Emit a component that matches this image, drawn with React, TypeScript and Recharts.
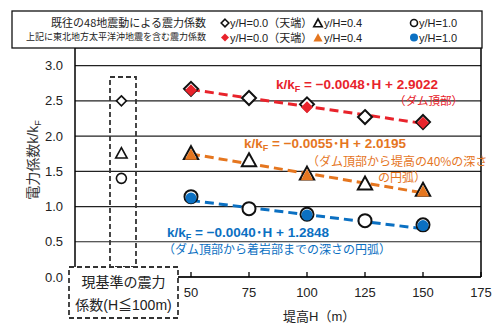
import React from 'react';
import {
  ComposedChart,
  Scatter,
  Line,
  XAxis,
  YAxis,
  CartesianGrid,
  ReferenceLine,
} from 'recharts';

// 堤高 H (m)
const heights = [50, 75, 100, 125, 150];
const heightsFull = [50, 100, 150];
const fitHeights = [50, 150];
const stdHeight = 20;

// 既往の48地震動による震力係数 (open markers)
const openTop = [2.67, 2.54, 2.45, 2.27, 2.2];
const openMid = [1.75, 1.65, 1.46, 1.32, 1.23];
const openBase = [1.14, 0.97, 0.89, 0.8, 0.74];

// 東北地方太平洋沖地震を含む震力係数 (filled markers)
const fullTop = [2.65, 2.41, 2.19];
const fullMid = [1.73, 1.44, 1.21];
const fullBase = [1.12, 0.88, 0.73];

// 回帰直線 (両端)
const fitTop = [2.66, 2.18];
const fitMid = [1.745, 1.195];
const fitBase = [1.085, 0.685];

// 現基準の震力係数 (天端, 0.4, 1.0)
const stdValues = [2.5, 1.75, 1.4];

const xTicks = [50, 75, 100, 125, 150, 175];
const yTicks = [0, 0.5, 1, 1.5, 2, 2.5, 3];

const RED = '#e8232b';
const ORANGE = '#e5761f';
const BLUE = '#0b70c2';
const FONT = "'Liberation Sans', 'Noto Sans CJK JP', sans-serif";
const JP = "'Noto Sans CJK JP', sans-serif";

const toPts = (xs: number[], ys: number[]) => xs.map((h, i) => ({ h, v: ys[i] }));

type ShapeProps = { cx?: number; cy?: number; r?: number; fill?: string; stroke?: string; sw?: number };

const Diamond = ({ cx = 0, cy = 0, r = 7, fill = '#fff', stroke = 'none', sw = 2 }: ShapeProps) => (
  <path
    d={`M${cx},${cy - r}L${cx + r},${cy}L${cx},${cy + r}L${cx - r},${cy}Z`}
    fill={fill}
    stroke={stroke}
    strokeWidth={sw}
  />
);

const Triangle = ({ cx = 0, cy = 0, r = 7, fill = '#fff', stroke = 'none', sw = 2 }: ShapeProps) => (
  <path
    d={`M${cx},${cy - r}L${cx + r * 0.95},${cy + r * 0.72}L${cx - r * 0.95},${cy + r * 0.72}Z`}
    fill={fill}
    stroke={stroke}
    strokeWidth={sw}
    strokeLinejoin="miter"
  />
);

const Circle = ({ cx = 0, cy = 0, r = 6.5, fill = '#fff', stroke = 'none', sw = 2 }: ShapeProps) => (
  <circle cx={cx} cy={cy} r={r} fill={fill} stroke={stroke} strokeWidth={sw} />
);

const XTick = ({ x, y, payload }: any) => (
  <g>
    <line x1={x} x2={x} y1={y - 5} y2={y} stroke="#000" strokeWidth={1.3} />
    <text x={x} y={y + 20} textAnchor="middle" fontSize={13} fill="#222" fontFamily={FONT}>
      {payload.value}
    </text>
  </g>
);

const Eq = ({ x, y, color, text }: { x: number; y: number; color: string; text: string }) => (
  <text x={x} y={y} fill={color} fontSize={13.5} fontWeight="bold" fontFamily={FONT}>
    <tspan>k/k</tspan>
    <tspan fontSize={9} dy={3}>F</tspan>
    <tspan dy={-3}>{text}</tspan>
  </text>
);

export default function App() {
  return (
    <div style={{ position: 'absolute', left: 0, top: 0, width: 493, height: 323, background: '#fff', fontFamily: FONT }}>
      <ComposedChart width={493} height={323} margin={{ top: 48, right: 12, left: 0, bottom: 0 }}>
        <CartesianGrid vertical={false} stroke="#222" strokeWidth={1.2} />
        <XAxis
          dataKey="h"
          type="number"
          domain={[0, 175]}
          ticks={xTicks}
          height={46}
          axisLine={{ stroke: '#000', strokeWidth: 1.5 }}
          tickLine={false}
          tickSize={0}
          tickMargin={0}
          tick={<XTick />}
          allowDataOverflow
        />
        <YAxis
          type="number"
          domain={[0, 3.25]}
          ticks={yTicks}
          width={75}
          axisLine={{ stroke: '#000', strokeWidth: 1.5 }}
          tickLine={false}
          tickSize={0}
          tickMargin={12}
          tick={{ fontSize: 13, fill: '#222', fontFamily: FONT }}
          tickFormatter={(v: number) => v.toFixed(1)}
          allowDataOverflow
        />
        <ReferenceLine x={175} stroke="#000" strokeWidth={1.5} />

        <Line data={toPts(fitHeights, fitTop)} dataKey="v" stroke={RED} strokeWidth={3} strokeDasharray="9 5" dot={false} isAnimationActive={false} />
        <Line data={toPts(fitHeights, fitMid)} dataKey="v" stroke={ORANGE} strokeWidth={3} strokeDasharray="9 5" dot={false} isAnimationActive={false} />
        <Line data={toPts(fitHeights, fitBase)} dataKey="v" stroke={BLUE} strokeWidth={3} strokeDasharray="9 5" dot={false} isAnimationActive={false} />

        <Scatter data={toPts(heights, openTop)} dataKey="v" isAnimationActive={false}
          shape={(p: any) => <Diamond cx={p.cx} cy={p.cy} r={7} fill="#fff" stroke="#111" sw={2} />} />
        <Scatter data={toPts(heights, openMid)} dataKey="v" isAnimationActive={false}
          shape={(p: any) => <Triangle cx={p.cx} cy={p.cy} r={7.5} fill="#fff" stroke="#111" sw={2} />} />
        <Scatter data={toPts(heights, openBase)} dataKey="v" isAnimationActive={false}
          shape={(p: any) => <Circle cx={p.cx} cy={p.cy} r={6.5} fill="#fff" stroke="#111" sw={2} />} />

        <Scatter data={toPts(heightsFull, fullTop)} dataKey="v" isAnimationActive={false}
          shape={(p: any) => <Diamond cx={p.cx} cy={p.cy} r={6} fill={RED} />} />
        <Scatter data={toPts(heightsFull, fullMid)} dataKey="v" isAnimationActive={false}
          shape={(p: any) => <Triangle cx={p.cx} cy={p.cy} r={6.5} fill={ORANGE} />} />
        <Scatter data={toPts(heightsFull, fullBase)} dataKey="v" isAnimationActive={false}
          shape={(p: any) => <Circle cx={p.cx} cy={p.cy} r={5.5} fill={BLUE} />} />

        <Scatter data={[{ h: stdHeight, v: stdValues[0] }]} dataKey="v" isAnimationActive={false}
          shape={(p: any) => <Diamond cx={p.cx} cy={p.cy} r={5} fill="#fff" stroke="#111" sw={1.6} />} />
        <Scatter data={[{ h: stdHeight, v: stdValues[1] }]} dataKey="v" isAnimationActive={false}
          shape={(p: any) => <Triangle cx={p.cx} cy={p.cy} r={6} fill="#fff" stroke="#111" sw={1.6} />} />
        <Scatter data={[{ h: stdHeight, v: stdValues[2] }]} dataKey="v" isAnimationActive={false}
          shape={(p: any) => <Circle cx={p.cx} cy={p.cy} r={5} fill="#fff" stroke="#111" sw={1.6} />} />
      </ComposedChart>

      <svg width={493} height={323} style={{ position: 'absolute', left: 0, top: 0, pointerEvents: 'none' }}>
        {/* legend */}
        <rect x={12} y={11} width={470} height={37} fill="#fff" stroke="#111" strokeWidth={1.3} />
        <text x={206} y={27} textAnchor="end" fontSize={11} fill="#222" fontFamily={JP}>既往の48地震動による震力係数</text>
        <text x={206} y={40} textAnchor="end" fontSize={9} fill="#222" fontFamily={JP}>上記に東北地方太平洋沖地震を含む震力係数</text>

        <Diamond cx={225} cy={23} r={3.8} fill="#fff" stroke="#111" sw={1.6} />
        <text x={230} y={27} fontSize={11} fill="#222" fontFamily={FONT}>y/H=0.0（天端）</text>
        <Triangle cx={318} cy={23.5} r={4.5} fill="#fff" stroke="#111" sw={1.6} />
        <text x={324} y={27} fontSize={11} fill="#222" fontFamily={FONT}>y/H=0.4</text>
        <Circle cx={414} cy={23} r={3.5} fill="#fff" stroke="#111" sw={1.6} />
        <text x={419} y={27} fontSize={11} fill="#222" fontFamily={FONT}>y/H=1.0</text>

        <Diamond cx={225} cy={37.5} r={4} fill={RED} />
        <text x={230} y={41.5} fontSize={11} fill="#222" fontFamily={FONT}>y/H=0.0（天端）</text>
        <Triangle cx={318} cy={38} r={4.8} fill={ORANGE} />
        <text x={324} y={41.5} fontSize={11} fill="#222" fontFamily={FONT}>y/H=0.4</text>
        <Circle cx={414} cy={37.5} r={4} fill={BLUE} />
        <text x={419} y={41.5} fontSize={11} fill="#222" fontFamily={FONT}>y/H=1.0</text>

        {/* y axis title */}
        <text transform="translate(38,160) rotate(-90)" textAnchor="middle" fontSize={14} fill="#333" fontFamily={FONT}>
          <tspan>電力係数k/k</tspan>
          <tspan fontSize={9} dy={3}>F</tspan>
        </text>
        {/* x axis title */}
        <text x={283} y={321} fontSize={13} fill="#222" fontFamily={FONT}>堤高H（m）</text>

        {/* current standard boxes */}
        <rect x={110} y={77} width={26} height={190} fill="none" stroke="#333" strokeWidth={1.8} strokeDasharray="5 3" />
        <rect x={69} y={267} width={109} height={51} fill="#fff" stroke="#333" strokeWidth={1.8} strokeDasharray="5 3" />
        <text x={123.5} y={287} textAnchor="middle" fontSize={14} fill="#222" fontFamily={JP}>現基準の震力</text>
        <text x={123.5} y={310} textAnchor="middle" fontSize={14} fill="#222" fontFamily={FONT}>係数(H≦100m)</text>

        {/* regression annotations */}
        <Eq x={276} y={89} color={RED} text=" = −0.0048･H + 2.9022" />
        <text x={394} y={105} fontSize={11.5} fill={RED} fontFamily={JP}>（ダム頂部）</text>

        <Eq x={244} y={148} color={ORANGE} text=" = −0.0055･H + 2.0195" />
        <text x={307} y={166} fontSize={12} fill={ORANGE} fontFamily={JP}>（ダム頂部から堤高の40%の深さ</text>
        <text x={378} y={182} fontSize={12} fill={ORANGE} fontFamily={JP}>の円弧）</text>

        <Eq x={167} y={237} color={BLUE} text=" = −0.0040･H + 1.2848" />
        <text x={163} y={254} fontSize={12} fill={BLUE} fontFamily={JP}>（ダム頂部から着岩部までの深さの円弧）</text>
      </svg>
    </div>
  );
}
